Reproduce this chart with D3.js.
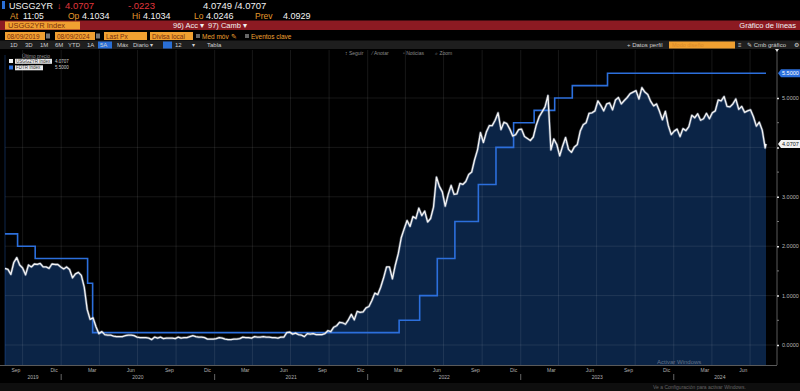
<!DOCTYPE html>
<html><head><meta charset="utf-8">
<script src="https://cdn.jsdelivr.net/npm/d3@7"></script>
<style>
html,body{margin:0;padding:0;background:#000;overflow:hidden;}
svg{display:block;font-family:"Liberation Sans",Arial,sans-serif;}
</style></head><body>
<svg id="c" width="800" height="391"></svg>
<script>
// ---------------- DATA ----------------
// USGG2YR Index (2Y US Treasury yield), weekly samples, one array per year
const usggStart2019 = "2019-08-20";
const usgg2019 = [1.55,1.53,1.43,1.67,1.77,1.62,1.56,1.42,1.62,1.58,1.64,1.63,1.65,1.58,1.58,1.55,1.64,1.63,1.63,1.58];
const usggStart2020 = "2020-01-07";
const usgg2020 = [1.54,1.58,1.53,1.36,1.44,1.47,1.41,1.17,0.72,0.52,0.55,0.37,0.23,0.27,0.21,0.20,0.20,0.18,0.17,0.17,0.17,0.19,0.20,0.20,0.19,0.16,0.15,0.15,0.15,0.14,0.11,0.16,0.14,0.16,0.13,0.14,0.14,0.14,0.13,0.16,0.14,0.15,0.15,0.17,0.19,0.17,0.16,0.16,0.15,0.12,0.12,0.12];
const usggStart2021 = "2021-01-05";
const usgg2021 = [0.13,0.15,0.14,0.12,0.11,0.11,0.12,0.12,0.13,0.16,0.15,0.15,0.14,0.17,0.16,0.16,0.17,0.16,0.16,0.15,0.15,0.14,0.16,0.16,0.25,0.26,0.22,0.24,0.21,0.20,0.17,0.23,0.22,0.23,0.21,0.21,0.21,0.23,0.29,0.27,0.36,0.39,0.46,0.45,0.42,0.51,0.62,0.51,0.68,0.66,0.67,0.75];
const usggStart2022 = "2022-01-04";
const usgg2022 = [0.78,0.90,1.05,1.02,1.17,1.36,1.58,1.58,1.34,1.62,1.85,2.17,2.35,2.52,2.40,2.60,2.56,2.77,2.62,2.71,2.49,2.56,2.79,3.40,3.21,3.10,2.81,3.05,3.23,3.05,3.06,3.27,3.25,3.31,3.45,3.50,3.75,3.95,4.30,4.10,4.31,4.44,4.44,4.55,4.70,4.36,4.51,4.48,4.37,4.23,4.26,4.36];
const usggStart2023 = "2023-01-03";
const usgg2023 = [4.37,4.22,4.18,4.14,4.21,4.45,4.62,4.72,4.82,5.05,3.95,4.17,4.06,3.83,4.03,4.20,3.96,3.90,4.01,4.06,4.33,4.46,4.50,4.69,4.70,4.74,4.94,4.85,4.74,4.88,4.90,4.76,4.96,5.01,4.88,4.95,5.01,5.09,5.12,5.15,4.98,5.21,5.12,5.07,4.93,4.84,4.88,4.73,4.56,4.73,4.44,4.26];
const usggStart2024 = "2024-01-02";
const usgg2024 = [4.33,4.37,4.22,4.38,4.34,4.42,4.65,4.60,4.68,4.55,4.58,4.69,4.58,4.70,4.74,4.96,4.94,5.03,4.83,4.82,4.88,4.98,4.77,4.83,4.71,4.74,4.76,4.62,4.43,4.51,4.35,3.99];
const usggLastDate = "2024-08-08";
const usggLast = 4.0707;

// FDTR Index (Fed funds target, upper bound) – change dates and levels
const fdtrDates = ["2019-08-20","2019-09-19","2019-10-31","2020-03-04","2020-03-16","2022-03-17","2022-05-05","2022-06-16","2022-07-28","2022-09-22","2022-11-03","2022-12-15","2023-02-02","2023-03-23","2023-05-04","2023-07-27","2024-08-08"];
const fdtrValues = [2.25,2.00,1.75,1.25,0.25,0.50,1.00,1.75,2.50,3.25,4.00,4.50,4.75,5.00,5.25,5.50,5.50];

// axis ticks / labels
const yTicks = [0,1,2,3,4,5];
const monthNames = ["Ene","Feb","Mar","Abr","May","Jun","Jul","Ago","Sep","Oct","Nov","Dic"];
const quarterLabelMonths = [2,5,8,11];
const years = [2019,2020,2021,2022,2023,2024];

// ---------------- BUILD SERIES ----------------
const parse = d3.utcParse("%Y-%m-%d");
const blocks = [[usggStart2019,usgg2019],[usggStart2020,usgg2020],[usggStart2021,usgg2021],[usggStart2022,usgg2022],[usggStart2023,usgg2023],[usggStart2024,usgg2024]];
const usgg = [];
blocks.forEach(([s,vals])=>{
  const d0 = parse(s);
  vals.forEach((v,i)=>usgg.push({date:d3.utcDay.offset(d0,7*i),value:v}));
});
usgg.push({date:parse(usggLastDate),value:usggLast});
const fdtr = fdtrDates.map((d,i)=>({date:parse(d),value:fdtrValues[i]}));
const fdtrLast = fdtrValues[fdtrValues.length-1];

// ---------------- LAYOUT ----------------
const svg = d3.select("#c");
const W=800,H=391;
const plotL=5, plotR=776, plotT=50, plotB=365;
svg.append("rect").attr("width",W).attr("height",H).attr("fill","#000");

const x = d3.scaleUtc().domain([parse("2019-08-20"),parse("2024-08-08")]).range([5,766]);
const y = d3.scaleLinear().domain([0,5]).range([345,98]);

// ---------------- HEADER ----------------
const ORANGE="#f0a031", AMBER="#e69a2c";
function t(xp,yp,s,fill,size,anchor,weight){
  return svg.append("text").attr("x",xp).attr("y",yp).text(s).attr("fill",fill)
    .attr("font-size",size).attr("text-anchor",anchor||"start").attr("font-weight",weight||"normal");
}
// row 1
svg.append("rect").attr("x",2).attr("y",1).attr("width",3).attr("height",8).attr("fill","#2a6fd6");
t(9,9,"USGG2YR","#f2f2f2",9);
t(57,9,"↓","#e0363c",9);
t(65,9,"4.0707","#e0363c",9.5);
t(128,9,"-.0223","#e0363c",9.5);
t(203,9,"4.0749 /4.0707","#f2f2f2",9.5);
// row 2
t(10,19,"At",AMBER,8.5); t(23,19,"11:05","#f2f2f2",8.5);
t(68,19,"Op",AMBER,8.5); t(82,19,"4.1034","#f2f2f2",9);
t(132,19,"Hi",AMBER,8.5); t(143,19,"4.1034","#f2f2f2",9);
t(194,19,"Lo",AMBER,8.5); t(206,19,"4.0246","#f2f2f2",9);
t(255,19,"Prev",AMBER,8.5); t(283,19,"4.0929","#f2f2f2",9);
// row 3 red bar
svg.append("rect").attr("x",0).attr("y",20.5).attr("width",W).attr("height",9.5).attr("fill","#8c1a22");
svg.append("rect").attr("x",5).attr("y",21.5).attr("width",75).attr("height",8).attr("fill",ORANGE);
t(8,28.3,"USGG2YR Index","#7a2e0c",7.5);
t(173,28.3,"96) Acc ▾","#f2f2f2",7.5);
t(208,28.3,"97) Camb ▾","#f2f2f2",7.5);
t(796,28.3,"Gráfico de líneas","#f2f2f2",7.5,"end");
// row 4
function obox(x0,w,s){
  svg.append("rect").attr("x",x0).attr("y",32).attr("width",w).attr("height",8).attr("fill",ORANGE);
  t(x0+2,38.5,s,"#7a2e0c",6.5);
}
obox(5,40,"08/09/2019");
svg.append("rect").attr("x",46).attr("y",33.5).attr("width",4).attr("height",5).attr("fill","#777");
obox(55,40,"08/09/2024");
svg.append("rect").attr("x",96).attr("y",33.5).attr("width",4).attr("height",5).attr("fill","#777");
obox(104,43,"Last Px");
obox(150,43,"Divisa local");
svg.append("rect").attr("x",196).attr("y",34).attr("width",4).attr("height",4).attr("fill","#666");
t(202,38.5,"Med móv ✎",ORANGE,6.5);
svg.append("rect").attr("x",245).attr("y",34).attr("width",4).attr("height",4).attr("fill","#666");
t(251,38.5,"Eventos clave",ORANGE,6.5);
// row 5 grey bar
svg.append("rect").attr("x",0).attr("y",40.5).attr("width",W).attr("height",8.5).attr("fill","#1e1e1e");
const periodItems = [["1D",10],["3D",25],["1M",40],["6M",55],["YTD",68],["1A",87],["5A",100],["Máx",117],["Diario ▾",133]];
svg.append("rect").attr("x",98).attr("y",41.5).attr("width",14).attr("height",7).attr("fill","#2a6fd6");
periodItems.forEach(([s,xp])=>t(xp,47.3,s,"#cfcfcf",6));
svg.append("rect").attr("x",163).attr("y",41.5).attr("width",9).attr("height",7).attr("fill","#2a6fd6");
t(175,47.3,"12","#cfcfcf",6); t(192,47.3,"▾","#cfcfcf",6); t(207,47.3,"Tabla","#cfcfcf",6);
t(627,47.3,"+ Datos perfil","#cfcfcf",6);
svg.append("rect").attr("x",669).attr("y",41.5).attr("width",66).attr("height",7).attr("fill",ORANGE);
t(672,47.3,"Modo diseño","#d98a2a",5.5);
t(738,47.3,"≡","#cfcfcf",6);
t(747,47.3,"✎ Cmb gráfico","#cfcfcf",6);
t(794,47.3,"⚙","#cfcfcf",6);
// row 6 small tools
t(345,55,"↕ Seguir","#8a8a8a",5);
t(372,55,"⁄ Anotar","#8a8a8a",5);
t(403,55,"▫ Noticias","#8a8a8a",5);
t(435,55,"⌕ Zoom","#8a8a8a",5);

// ---------------- PLOT ----------------
const area = d3.area().x(d=>x(d.date)).y0(plotB).y1(d=>y(d.value)).curve(d3.curveLinear);
svg.append("path").datum(usgg).attr("d",area).attr("fill","#0b2446");

// grid
const g = svg.append("g");
const qStarts = d3.utcMonth.range(parse("2019-08-01"),parse("2024-08-09")).filter(d=>d.getUTCMonth()%3===0 && d>=x.domain()[0]);
g.selectAll("line.v").data(qStarts).join("line").attr("x1",d=>x(d)).attr("x2",d=>x(d))
  .attr("y1",plotT).attr("y2",plotB).attr("stroke","#ffffff").attr("stroke-opacity",0.09).attr("stroke-width",1);
g.selectAll("line.h").data(yTicks).join("line").attr("x1",plotL).attr("x2",plotR)
  .attr("y1",d=>y(d)).attr("y2",d=>y(d)).attr("stroke","#ffffff").attr("stroke-opacity",0.09).attr("stroke-width",1);
// left plot edge
svg.append("line").attr("x1",5).attr("x2",5).attr("y1",55).attr("y2",plotB).attr("stroke","#2a6fd6").attr("stroke-opacity",0.35);

// FDTR step line
const stepLine = d3.line().x(d=>x(d.date)).y(d=>y(d.value)).curve(d3.curveStepAfter);
svg.append("path").datum(fdtr).attr("d",stepLine).attr("fill","none").attr("stroke","#2c6fdc").attr("stroke-width",1.6);

// USGG line with soft glow
const line = d3.line().x(d=>x(d.date)).y(d=>y(d.value));
svg.append("path").datum(usgg).attr("d",line).attr("fill","none").attr("stroke","#9fb0c8").attr("stroke-opacity",0.45).attr("stroke-width",2.6).attr("stroke-linejoin","round");
svg.append("path").datum(usgg).attr("d",line).attr("fill","none").attr("stroke","#f4f4f4").attr("stroke-width",1.3).attr("stroke-linejoin","round");

// ---------------- AXES ----------------
// right axis
svg.append("line").attr("x1",777).attr("x2",777).attr("y1",plotT).attr("y2",plotB).attr("stroke","#5a5a5a");
svg.append("path").attr("d","M775,49 L779,49 L777,52 Z").attr("fill","#ddd");
// labels hidden where a last-value tag covers them (as on the terminal)
const tagVals = [fdtrLast, usggLast];
const fmt4 = d3.format(".4f");
const yAxis = d3.axisRight(y).tickValues(yTicks)
  .tickFormat(v => tagVals.some(tv => Math.abs(y(tv)-y(v)) < 8) ? "" : fmt4(v))
  .tickSize(2).tickPadding(3);
const ya = svg.append("g").attr("transform","translate(777,0)").call(yAxis);
ya.select(".domain").remove();
ya.selectAll("line").attr("stroke","#ddd").attr("stroke-width",1.5);
ya.selectAll("text").attr("fill","#b8b8b8").attr("font-size",5.5).attr("font-family","Liberation Sans, Arial, sans-serif");
// minor ticks
const minor = [0.5,1.5,2.5,3.5,4.5];
svg.selectAll("line.minor").data(minor).join("line").attr("x1",777).attr("x2",779)
  .attr("y1",d=>y(d)).attr("y2",d=>y(d)).attr("stroke","#777");

// last-value tags
function tag(v,fill,textFill){
  const yy=y(v);
  svg.append("path").attr("d",`M778,${yy} L781,${yy-4} L800,${yy-4} L800,${yy+4} L781,${yy+4} Z`).attr("fill",fill);
  t(782,yy+2,fmt4(v),textFill,5.5);
}
tag(fdtrLast,"#2c6fdc","#fff");
tag(usggLast,"#f2f2f2","#111");

// bottom axis
svg.append("line").attr("x1",0).attr("x2",plotR+1).attr("y1",plotB+0.5).attr("y2",plotB+0.5).attr("stroke","#5a5a5a");
const mLabels = d3.utcMonth.range(parse("2019-08-01"),parse("2024-08-09"))
  .filter(d=>quarterLabelMonths.includes(d.getUTCMonth()))
  .map(d=>d3.utcDay.offset(d,14)).filter(d=>d>=x.domain()[0] && d<=x.domain()[1]);
svg.selectAll("text.m").data(mLabels).join("text").attr("x",d=>x(d)).attr("y",372)
  .attr("text-anchor","middle").attr("fill","#b0b0b0").attr("font-size",5).text(d=>monthNames[d.getUTCMonth()]);
const [d0,d1]=x.domain();
years.forEach(yr=>{
  const a = new Date(Math.max(d0, Date.UTC(yr,0,1)));
  const b = new Date(Math.min(d1, Date.UTC(yr+1,0,1)));
  t((x(a)+x(b))/2,379,String(yr),"#b0b0b0",5,"middle");
  if(yr>2019){
    const xx=x(new Date(Date.UTC(yr,0,1)));
    svg.append("line").attr("x1",xx).attr("x2",xx).attr("y1",374).attr("y2",380).attr("stroke","#666");
  }
});
svg.append("rect").attr("x",0).attr("y",383).attr("width",W).attr("height",8).attr("fill","#0e0e0e");

// legend
t(22,57.5,"Último precio","#9a9a9a",4.8);
svg.append("rect").attr("x",9).attr("y",59).attr("width",4).attr("height",4).attr("fill","#f2f2f2");
svg.append("rect").attr("x",15).attr("y",58.8).attr("width",37).attr("height",5).attr("fill","#e8e8e8");
t(16,62.8,"USGG2YR Index","#333",4.5);
t(55,62.8,fmt4(usggLast),"#cfcfcf",4.5);
svg.append("rect").attr("x",9).attr("y",65.5).attr("width",4).attr("height",4).attr("fill","#2c6fdc");
svg.append("rect").attr("x",15).attr("y",65.3).attr("width",28).attr("height",5).attr("fill","#e8e8e8");
t(16,69.3,"FDTR Index","#333",4.5);
t(55,69.3,fmt4(fdtrLast),"#cfcfcf",4.5);

// windows watermark (kept clear of axis labels)
t(657,363.5,"Activar Windows","#ffffff",6).attr("fill-opacity",0.35);
t(653,388.5,"Ve a Configuración para activar Windows.","#ffffff",5).attr("fill-opacity",0.35);
</script>
</body></html>
